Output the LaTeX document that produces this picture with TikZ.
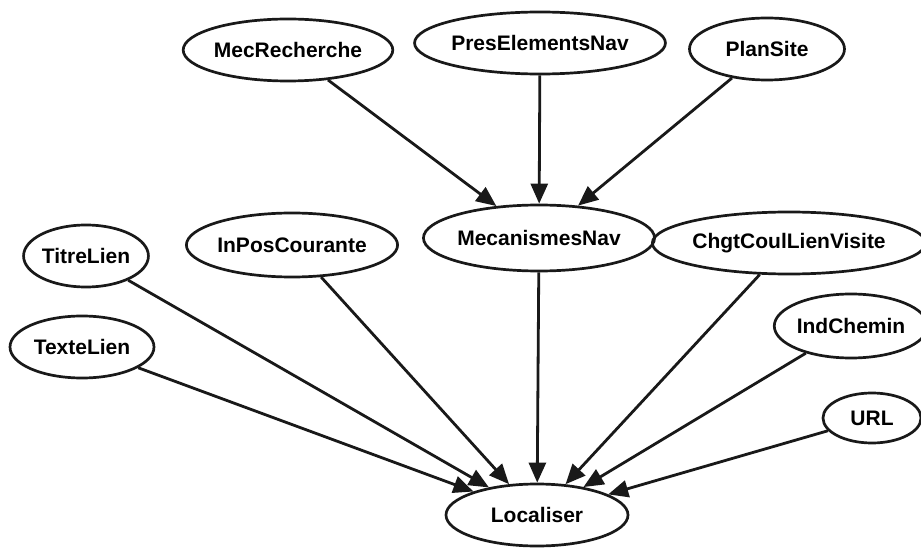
\documentclass[tikz,border=0pt]{standalone}
\usepackage{fontspec}
\setmainfont{Liberation Sans}
\usetikzlibrary{shapes.geometric,arrows.meta}
\begin{document}
\begin{tikzpicture}[x=1pt,y=-1pt,
  concept/.style={draw=black!90, line width=2.7pt, ellipse, inner sep=0pt,
    font=\fontsize{21}{24}\selectfont\bfseries},
  link/.style={line width=2.8pt, draw=black!90,
    -{Triangle[length=20pt,width=17pt]}}]
  \useasboundingbox (0,0) rectangle (921,548);
  % upper level
  \node[concept, minimum width=182pt, minimum height=62pt] (mec) at (288,50) {MecRecherche};
  \node[concept, minimum width=226pt, minimum height=62pt] (pres) at (540,43) {PresElementsNav};
  \node[concept, minimum width=155pt, minimum height=62pt] (plan) at (767,49) {PlanSite};
  % middle level
  \node[concept, minimum width=222pt, minimum height=66pt] (mnav) at (539,238) {MecanismesNav};
  \node[concept, minimum width=118pt, minimum height=62pt] (titre) at (86,256) {TitreLien};
  \node[concept, minimum width=184pt, minimum height=64pt] (inpos) at (292,245) {InPosCourante};
  \node[concept, minimum width=238pt, minimum height=62pt] (chgt) at (789,243) {ChgtCoulLienVisite};
  \node[concept, minimum width=140pt, minimum height=64pt] (ind) at (851,326) {IndChemin};
  \node[concept, minimum width=144pt, minimum height=62pt] (texte) at (82,347) {TexteLien};
  \node[concept, minimum width=98pt, minimum height=50pt] (url) at (872,418) {URL};
  % goal
  \node[concept, minimum width=182pt, minimum height=62pt] (loc) at (537,515) {Localiser};
  % connectors
  \draw[link] (mec) -- (mnav);
  \draw[link] (pres) -- (mnav);
  \draw[link] (plan) -- (mnav);
  \draw[link] (texte) -- (loc);
  \draw[link] (titre) -- (loc);
  \draw[link] (inpos) -- (loc);
  \draw[link] (mnav) -- (loc);
  \draw[link] (chgt) -- (loc);
  \draw[link] (ind) -- (loc);
  \draw[link] (url) -- (loc);
\end{tikzpicture}
\end{document}
